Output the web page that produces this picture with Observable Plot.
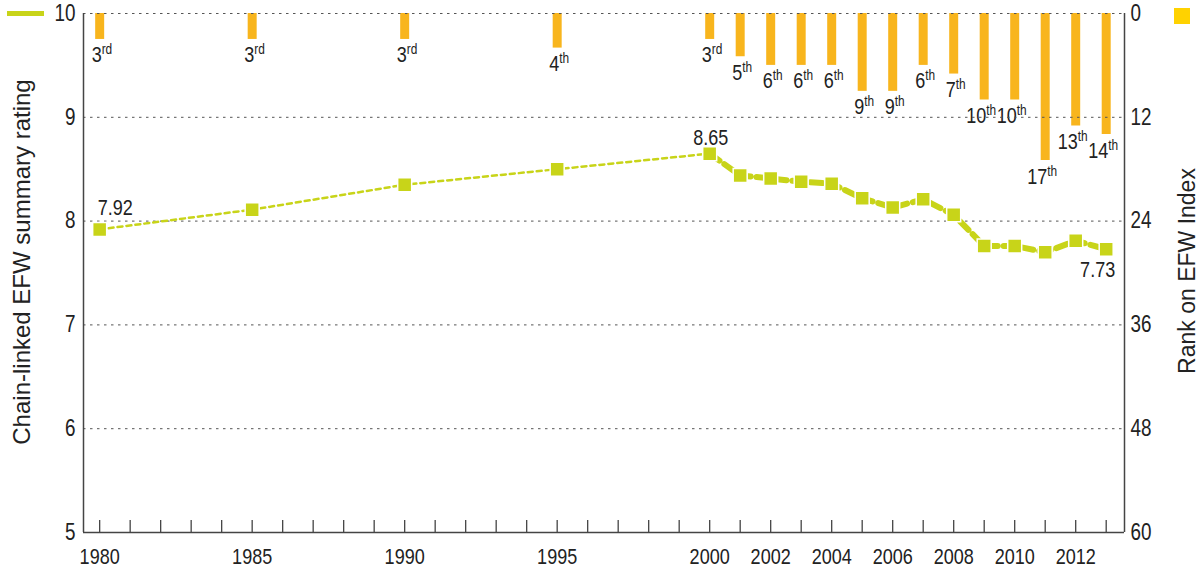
<!DOCTYPE html>
<html><head><meta charset="utf-8">
<script src="https://cdn.jsdelivr.net/npm/d3@7"></script>
<script src="https://cdn.jsdelivr.net/npm/@observablehq/plot@0.6"></script>
<style>
body{margin:0;background:#fff;}
#wrap{position:relative;width:1199px;height:571px;overflow:hidden;}
#wrap svg{position:absolute;left:0;top:0;}
.leg-line{position:absolute;left:7px;top:11px;width:37px;height:5px;background:#c8d419;}
.leg-sq{position:absolute;left:1174px;top:8px;width:16px;height:16px;background:#ffd200;}
.ttl{position:absolute;white-space:nowrap;font-family:"Liberation Sans",Arial,sans-serif;color:#222;transform:translate(-50%,-50%) rotate(-90deg);line-height:1;}
</style></head><body><div id="wrap"><div class="leg-line"></div><div class="leg-sq"></div>
<div class="ttl" id="tl" style="left:21.5px;top:262px;font-size:24px;"></div>
<div class="ttl" id="tr" style="left:1187px;top:271px;font-size:23px;"></div>
</div>
<script>
// ---- data ----
const years = [1980, 1985, 1990, 1995, 2000, 2001, 2002, 2003, 2004, 2005, 2006, 2007, 2008, 2009, 2010, 2011, 2012, 2013];
const ratings = [7.92, 8.11, 8.35, 8.50, 8.65, 8.44, 8.41, 8.38, 8.36, 8.22, 8.13, 8.21, 8.06, 7.76, 7.76, 7.70, 7.81, 7.73];
const ranks = [3, 3, 3, 4, 3, 5, 6, 6, 6, 9, 9, 6, 7, 10, 10, 17, 13, 14];
const tickYears = [1980, 1985, 1990, 1995, 2000, 2002, 2004, 2006, 2008, 2010, 2012];
const allTickYears = d3.range(1980, 2014);
const ratingTicks = [5, 6, 7, 8, 9, 10];
const rankTicks = [0, 12, 24, 36, 48, 60];
const leftTitle = "Chain-linked EFW summary rating";
const rightTitle = "Rank on EFW Index";

function ordinal(n) {
  const m = n % 100;
  if (m >= 11 && m <= 13) return "th";
  return ({1: "st", 2: "nd", 3: "rd"})[n % 10] || "th";
}
const data = years.map((year, i) => ({year, rating: ratings[i], rank: ranks[i], suffix: ordinal(ranks[i])}));

const W = 1199, H = 571;
const margins = {marginTop: 13, marginRight: 75, marginBottom: 39, marginLeft: 83};
const xDomain = [1979.47, 2013.6];
const font = '"Liberation Sans",Arial,sans-serif';
const ink = "#222";
const green = "#c8d419";
const orange = "#f8b51d";
const axisGray = "#444";

document.getElementById("tl").textContent = leftTitle;
document.getElementById("tr").textContent = rightTitle;

const rankPlot = Plot.plot({
  width: W, height: H, ...margins,
  x: {domain: xDomain, axis: null},
  y: {domain: [0, 60], reverse: true, axis: null},
  style: {fontFamily: font, fontSize: "22px", color: ink, background: "transparent"},
  marks: [
    Plot.ruleX(data, {x: "year", y1: 0, y2: "rank", stroke: orange, strokeWidth: 9}),
    Plot.text(data, {x: "year", y: "rank", text: d => String(d.rank), textAnchor: "end", lineAnchor: "bottom", dx: 2, dy: 23, fontSize: 22, fill: ink}),
    Plot.text(data, {x: "year", y: "rank", text: "suffix", textAnchor: "start", lineAnchor: "bottom", dx: 2, dy: 15, fontSize: 14.5, fill: ink}),
    Plot.axisY({anchor: "right", ticks: rankTicks, tickSize: 0, tickPadding: 6, fontSize: 23, label: null}),
    Plot.ruleX([xDomain[1]], {stroke: axisGray, strokeWidth: 1.5})
  ]
});

const linePlot = Plot.plot({
  width: W, height: H, ...margins,
  x: {domain: xDomain, axis: null},
  y: {domain: [5, 10], axis: null},
  style: {fontFamily: font, fontSize: "22px", color: ink, background: "transparent"},
  marks: [
    Plot.gridY(ratingTicks.filter(t => t > 5), {stroke: "#555", strokeOpacity: 1, strokeDasharray: "2.5,4.5"}),
    Plot.ruleY([5], {stroke: axisGray, strokeWidth: 1.5}),
    Plot.ruleX([xDomain[0]], {stroke: axisGray, strokeWidth: 1.5}),
    Plot.axisX({ticks: allTickYears, tickSize: 12, dy: -12, tickFormat: () => "", stroke: axisGray, strokeOpacity: 1, strokeWidth: 1.3, label: null}),
    Plot.axisX({ticks: tickYears, tickSize: 0, tickPadding: 16, tickFormat: d => String(d), fontSize: 22, label: null}),
    Plot.axisY({ticks: ratingTicks, tickSize: 0, tickPadding: 8, tickFormat: d => String(d), fontSize: 23, label: null}),
    Plot.line(data.filter(d => d.year <= 2000), {x: "year", y: "rating", stroke: green, strokeWidth: 2.5, strokeDasharray: "5,4"}),
    Plot.line(data.filter(d => d.year >= 2000), {x: "year", y: "rating", stroke: green, strokeWidth: 6, strokeDasharray: "12,6"}),
    Plot.dot(data, {x: "year", y: "rating", symbol: "square", r: 7.9, fill: green, stroke: "white", strokeWidth: 1.5}),
    Plot.text(data.filter(d => d.year === 1980), {x: "year", y: "rating", text: d => d.rating.toFixed(2), textAnchor: "start", lineAnchor: "bottom", dx: -2, dy: -14, fontSize: 22, fill: ink}),
    Plot.text(data.filter(d => d.year === 2000), {x: "year", y: "rating", text: d => d.rating.toFixed(2), textAnchor: "middle", lineAnchor: "bottom", dx: 1, dy: -9, fontSize: 22, fill: ink}),
    Plot.text(data.filter(d => d.year === 2013), {x: "year", y: "rating", text: d => d.rating.toFixed(2), textAnchor: "end", lineAnchor: "bottom", dx: 9, dy: 28, fontSize: 22, fill: ink})
  ]
});

// condensed look: narrow every chart text around its own anchor point
for (const svg of [rankPlot, linePlot]) {
  svg.querySelectorAll("text").forEach(t => {
    const tr = t.getAttribute("transform");
    if (tr && tr.startsWith("translate")) t.setAttribute("transform", tr + " scale(0.82,1)");
  });
}

const wrap = document.getElementById("wrap");
wrap.insertBefore(rankPlot, wrap.firstChild);
wrap.insertBefore(linePlot, rankPlot.nextSibling);
</script>
</body></html>
